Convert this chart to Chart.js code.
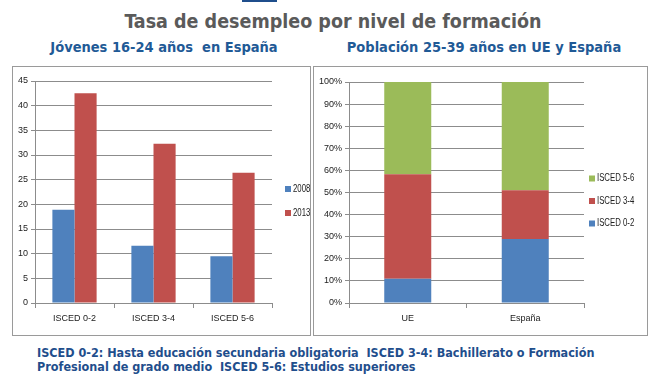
<!DOCTYPE html>
<html>
<head>
<meta charset="utf-8">
<script src="https://cdn.jsdelivr.net/npm/chart.js@4.4.1/dist/chart.umd.min.js"></script>
<style>
body { margin: 0; background: #fff; width: 660px; height: 382px; position: relative; overflow: hidden;
       font-family: 'DejaVu Sans Condensed', 'DejaVu Sans', sans-serif; font-weight: bold; }
.topbar { position: absolute; left: 242px; top: 0; width: 35px; height: 2px; background: #1f4e8c; }
#title { position: absolute; left: 0; width: 666px; top: 10px; text-align: center; font-size: 19.5px; color: #5a5a5a; }
.sub { position: absolute; top: 39px; width: 328px; text-align: center; font-size: 14.5px; color: #1f5a96; }
.box { position: absolute; top: 66px; height: 268px; border: 1px solid #9a9a9a; }
.box canvas { position: absolute; left: 0; top: 0; }
#foot { position: absolute; left: 37px; top: 346px; font-size: 12.5px; line-height: 14px; color: #1f4e8c; white-space: pre; }
</style>
</head>
<body>
<div class="topbar"></div>
<div id="title">Tasa de desempleo por nivel de formación</div>
<div class="sub" style="left:0">Jóvenes 16-24 años&nbsp; en España</div>
<div class="sub" style="left:320px">Población 25-39 años en UE y España</div>
<div class="box" style="left:12px;width:297px"><canvas id="chartYouth" width="297" height="268"></canvas></div>
<div class="box" style="left:313px;width:333px"><canvas id="chartPop" width="333" height="268"></canvas></div>
<div id="foot">ISCED 0-2: Hasta educación secundaria obligatoria  ISCED 3-4: Bachillerato o Formación
Profesional de grado medio  ISCED 5-6: Estudios superiores</div>
<script>
// Jóvenes 16-24 años en España (%)
var youthLabels = ["ISCED 0-2", "ISCED 3-4", "ISCED 5-6"];
var youth2008 = [18.9, 11.6, 9.5];
var youth2013 = [42.5, 32.3, 26.4];

// Población 25-39 años en UE y España (% por nivel)
var popLabels = ["UE", "España"];
var popIsced02 = [11, 29];
var popIsced34 = [47.3, 22];
var popIsced56 = [41.7, 49];

var blue = "#4f81bd", red = "#c0504d", green = "#9bbb59";
var gridColor = "#8c8c8c";
var tickFont = { family: "'Liberation Sans', Arial, sans-serif", size: 9 };

Chart.defaults.animation = false;
Chart.defaults.color = "#222";

// small excel-like legend to the right of the plot, centred on the canvas
var sideLegend = {
    id: "sideLegend",
    afterDraw: function(chart, args, opts) {
        var ctx = chart.ctx;
        var sets = chart.data.datasets.slice();
        if (opts.reverse) sets.reverse();
        var x = chart.chartArea.right + opts.offsetX;
        var y = chart.height / 2 - (sets.length - 1) * opts.spacing / 2;
        ctx.save();
        ctx.font = "10px 'Liberation Sans', Arial, sans-serif";
        ctx.textBaseline = "middle";
        sets.forEach(function(ds, i) {
            var cy = y + i * opts.spacing;
            ctx.fillStyle = ds.backgroundColor;
            ctx.fillRect(x, cy - 3, 6, 6);
            ctx.fillStyle = "#222";
            ctx.save();
            ctx.translate(x + 8, cy);
            ctx.scale(0.78, 1);
            ctx.fillText(ds.label, 0, 0);
            ctx.restore();
        });
        ctx.restore();
    }
};

function axesOptions(yMax, yStep, yWidth, yFormat) {
    return {
        x: {
            grid: { offset: true, drawOnChartArea: false, color: gridColor, tickLength: 5 },
            border: { color: gridColor },
            ticks: { font: tickFont, padding: 5 },
            afterFit: function(s) { s.height = 32; }
        },
        y: {
            min: 0, max: yMax,
            grid: { color: gridColor, tickLength: 4 },
            border: { color: gridColor },
            ticks: { font: tickFont, stepSize: yStep, padding: 3, callback: yFormat },
            afterFit: function(s) { s.width = yWidth; }
        }
    };
}

var popScales = axesOptions(100, 10, 35, function(v) { return v + "%"; });
popScales.x.stacked = true;
popScales.y.stacked = true;

new Chart(document.getElementById("chartYouth"), {
    type: "bar",
    data: {
        labels: youthLabels,
        datasets: [
            { label: "2008", data: youth2008, backgroundColor: blue },
            { label: "2013", data: youth2013, backgroundColor: red }
        ]
    },
    options: {
        responsive: false,
        categoryPercentage: 0.56,
        barPercentage: 1,
        layout: { padding: { left: 0, top: 14, right: 38, bottom: 0 } },
        scales: axesOptions(45, 5, 22, function(v) { return v; }),
        plugins: {
            legend: { display: false },
            tooltip: { enabled: false },
            sideLegend: { offsetX: 13, spacing: 24, reverse: false }
        }
    },
    plugins: [sideLegend]
});

new Chart(document.getElementById("chartPop"), {
    type: "bar",
    data: {
        labels: popLabels,
        datasets: [
            { label: "ISCED 0-2", data: popIsced02, backgroundColor: blue },
            { label: "ISCED 3-4", data: popIsced34, backgroundColor: red },
            { label: "ISCED 5-6", data: popIsced56, backgroundColor: green }
        ]
    },
    options: {
        responsive: false,
        categoryPercentage: 0.4,
        barPercentage: 1,
        layout: { padding: { left: 0, top: 15, right: 63, bottom: 0 } },
        scales: popScales,
        plugins: {
            legend: { display: false },
            tooltip: { enabled: false },
            sideLegend: { offsetX: 5, spacing: 22.5, reverse: true }
        }
    },
    plugins: [sideLegend]
});
</script>
</body>
</html>
